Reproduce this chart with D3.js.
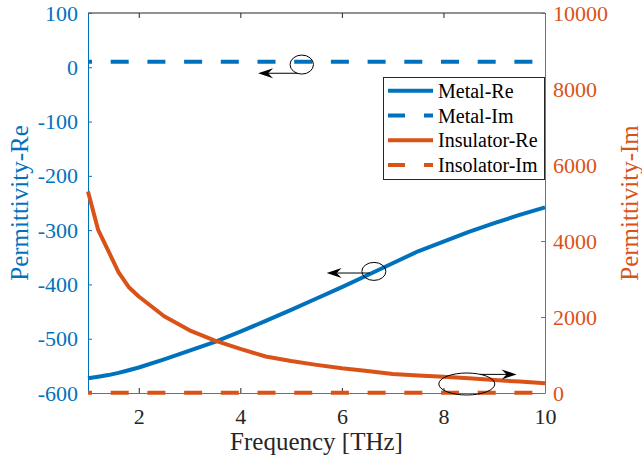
<!DOCTYPE html>
<html>
<head>
<meta charset="utf-8">
<script src="https://cdn.jsdelivr.net/npm/d3@7"></script>
<style>
  body { margin: 0; background: #fff; }
  svg text { font-family: "Liberation Serif", "Times New Roman", serif !important; }
</style>
</head>
<body>
<svg id="chart" width="642" height="462"></svg>
<script>
// frequency samples [THz]
var freq = [1, 1.2, 1.4, 1.6, 1.8, 2, 2.5, 3, 3.5, 4, 4.5, 5, 5.5, 6, 6.5, 7, 7.5, 8, 8.5, 9, 9.5, 10];
// left axis series
var metalRe = [-573, -570, -567, -563, -558, -553, -538, -522, -506, -487, -467, -447, -426, -405, -383, -361, -339, -321, -303, -287, -272, -258];
// right axis series
var insulatorRe = [5300, 4290, 3740, 3180, 2790, 2540, 2020, 1650, 1380, 1160, 960, 840, 740, 650, 580, 500, 460, 430, 385, 340, 300, 255];
// imaginary parts are flat
var imFreq = [1, 10];
var metalIm = [10, 10];
var insulatorIm = [8, 8];

var xTicks = [2, 4, 6, 8, 10];
var leftTicks = [-600, -500, -400, -300, -200, -100, 0, 100];
var rightTicks = [0, 2000, 4000, 6000, 8000, 10000];

var legendNames = ["Metal-Re", "Metal-Im", "Insulator-Re", "Insolator-Im"];

var blue = "#0072BD", orange = "#D95319";
var serif = "'Liberation Serif', 'Times New Roman', serif";

var svg = d3.select("#chart");
var L = 88, R = 545, T = 13, B = 393;

var x = d3.scaleLinear().domain([1, 10]).range([L, R]);
var yL = d3.scaleLinear().domain([-600, 100]).range([B, T]);
var yR = d3.scaleLinear().domain([0, 10000]).range([B, T]);

function zip(xs, ys) { return xs.map((d, i) => [d, ys[i]]); }

// axes
function styleAxis(g, color) {
  g.attr("font-size", 22).attr("font-family", serif);
  g.select(".domain").attr("stroke", color);
  g.selectAll(".tick line").attr("stroke", color);
  g.selectAll(".tick text").attr("fill", color).style("font-family", serif).style("font-size", "22px");
}

svg.append("line")
  .attr("x1", L).attr("x2", R).attr("y1", T).attr("y2", T)
  .attr("stroke", "#262626");

svg.append("g")
  .attr("transform", "translate(0," + T + ")")
  .call(d3.axisTop(x).tickValues(xTicks).tickSize(-5).tickSizeOuter(0).tickFormat(""))
  .call(g => { g.select(".domain").remove(); g.selectAll(".tick line").attr("stroke", "#262626"); });

svg.append("g")
  .attr("transform", "translate(0," + B + ")")
  .call(d3.axisBottom(x).tickValues(xTicks).tickSize(-5).tickSizeOuter(0).tickPadding(15))
  .call(g => styleAxis(g, "#262626"))
  .call(g => g.select(".domain").attr("stroke", "#707070"));

svg.append("g")
  .attr("transform", "translate(" + L + ",0)")
  .call(d3.axisLeft(yL).tickValues(leftTicks).tickSize(-4).tickSizeOuter(0).tickPadding(10)
    .tickFormat(d => d < 0 ? "-" + Math.abs(d) : d))
  .call(g => styleAxis(g, blue));

svg.append("g")
  .attr("transform", "translate(" + R + ",0)")
  .call(d3.axisRight(yR).tickValues(rightTicks).tickSize(-4).tickSizeOuter(0).tickPadding(8)
    .tickFormat(d3.format("d")))
  .call(g => styleAxis(g, orange));

// axis labels
svg.append("text")
  .attr("x", (L + R) / 2).attr("y", 450)
  .attr("text-anchor", "middle").attr("font-size", 25).attr("fill", "#262626")
  .text("Frequency [THz]");

svg.append("text")
  .attr("transform", "translate(28," + (T + B) / 2 + ") rotate(-90)")
  .attr("text-anchor", "middle").attr("font-size", 25).attr("fill", blue)
  .text("Permittivity-Re");

svg.append("text")
  .attr("transform", "translate(638," + (T + B) / 2 + ") rotate(-90)")
  .attr("text-anchor", "middle").attr("font-size", 25).attr("fill", orange)
  .text("Permittivity-Im");

// series
var series = [
  { pts: zip(freq, metalRe), y: yL, color: blue, dash: null },
  { pts: zip(imFreq, metalIm), y: yL, color: blue, dash: "18 18.7" },
  { pts: zip(freq, insulatorRe), y: yR, color: orange, dash: null },
  { pts: zip(imFreq, insulatorIm), y: yR, color: orange, dash: "18 18.7" }
];

series.forEach(s => {
  var line = d3.line().x(d => x(d[0])).y(d => s.y(d[1]));
  svg.append("path")
    .datum(s.pts)
    .attr("d", line)
    .attr("fill", "none")
    .attr("stroke", s.color)
    .attr("stroke-width", 4)
    .attr("stroke-linejoin", "round")
    .attr("stroke-dasharray", s.dash)
    .attr("stroke-dashoffset", s.dash ? 14 : null);
});

// annotations: ellipse + arrow, in data coordinates
var notes = [
  { cx: 5.21, cy: 5, y: yL, rx: 11.7, ry: 9.5, ax: 5.13, ay: -11, tx: 4.35 },
  { cx: 6.63, cy: -376, y: yL, rx: 12, ry: 9, ax: 6.55, ay: -379, tx: 5.70 },
  { cx: 8.46, cy: 237, y: yR, rx: 28, ry: 11, ax: 8.72, ay: 490, tx: 9.44 }
];

notes.forEach(n => {
  svg.append("ellipse")
    .attr("cx", x(n.cx)).attr("cy", n.y(n.cy))
    .attr("rx", n.rx).attr("ry", n.ry)
    .attr("fill", "none").attr("stroke", "#000").attr("stroke-width", 1);
  var x0 = x(n.ax), x1 = x(n.tx), yy = n.y(n.ay);
  var dir = x1 < x0 ? 1 : -1;
  svg.append("line")
    .attr("x1", x0).attr("x2", x1 + dir * 8).attr("y1", yy).attr("y2", yy)
    .attr("stroke", "#000").attr("stroke-width", 1);
  svg.append("path")
    .attr("d", "M" + x1 + "," + yy +
      "L" + (x1 + dir * 15) + "," + (yy - 5) +
      "L" + (x1 + dir * 10) + "," + yy +
      "L" + (x1 + dir * 15) + "," + (yy + 5) + "Z")
    .attr("fill", "#000");
});

// legend
var lg = svg.append("g");
lg.append("rect")
  .attr("x", 383.5).attr("y", 77.5).attr("width", 161).attr("height", 102)
  .attr("fill", "#fff").attr("stroke", "#262626").attr("stroke-width", 1);

legendNames.forEach((name, i) => {
  var yy = 90.7 + i * 24.8;
  lg.append("line")
    .attr("x1", 388).attr("x2", 433).attr("y1", yy).attr("y2", yy)
    .attr("stroke", series[i].color).attr("stroke-width", 4)
    .attr("stroke-dasharray", series[i].dash ? "17 19" : null);
  lg.append("text")
    .attr("x", 438).attr("y", yy + 7)
    .attr("font-size", 20).attr("fill", "#000")
    .text(name);
});
</script>
</body>
</html>
